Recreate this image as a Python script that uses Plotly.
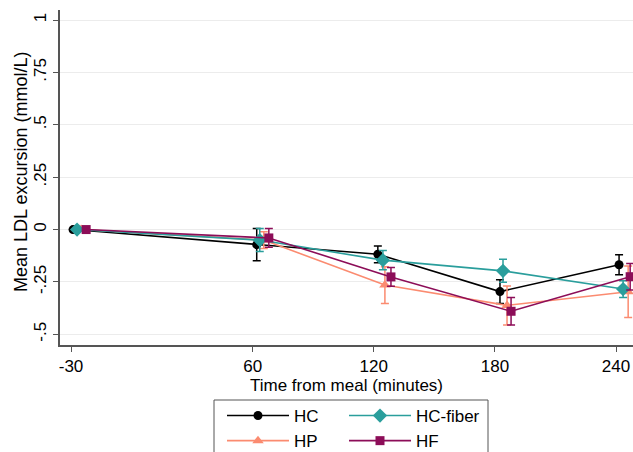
import plotly.graph_objects as go

# Data
hc_x = [-29, 62, 122, 182.5, 241.5]
hc_y = [0, -0.072, -0.118, -0.296, -0.168]
hc_err = [0, 0.077, 0.04, 0.057, 0.048]

fib_x = [-27, 63.5, 124.5, 184, 243.5]
fib_y = [0, -0.05, -0.146, -0.197, -0.284]
fib_err = [0, 0.055, 0.046, 0.055, 0.04]

hp_x = [-25, 65.5, 125.5, 186, 246]
hp_y = [0, -0.05, -0.265, -0.362, -0.297]
hp_err = [0, 0.04, 0.088, 0.093, 0.123]

hf_x = [-22.5, 68, 128.5, 188, 247]
hf_y = [0, -0.04, -0.226, -0.39, -0.225]
hf_err = [0, 0.045, 0.045, 0.066, 0.063]

x_ticks = [-30, 60, 120, 180, 240]
x_tick_labels = ["-30", "60", "120", "180", "240"]
y_ticks = [1, 0.75, 0.5, 0.25, 0, -0.25, -0.5]
y_tick_labels = ["1", ".75", ".5", ".25", "0", "-.25", "-.5"]

C_HC = "#000000"
C_FIB = "#2a9e9c"
C_HP = "#fb8b70"
C_HF = "#8c0d58"

fig = go.Figure()

def add(name, x, y, err, color, symbol, size, legend):
    fig.add_trace(go.Scatter(
        x=x, y=y, name=name, mode="lines+markers",
        line=dict(color=color, width=1.6),
        marker=dict(color=color, symbol=symbol, size=size),
        error_y=dict(type="data", array=err, visible=True, color=color,
                     thickness=1.5, width=4),
        legend=legend,
    ))

add("HC", hc_x, hc_y, hc_err, C_HC, "circle", 9, "legend")
add("HP", hp_x, hp_y, hp_err, C_HP, "triangle-up", 10, "legend")
add("HC-fiber", fib_x, fib_y, fib_err, C_FIB, "diamond", 11, "legend2")
add("HF", hf_x, hf_y, hf_err, C_HF, "square", 9, "legend2")

W, H = 633, 452
L, R, T, B = 60, 0, 10, 107
ph = H - T - B
pw = W - L - R

def px_x(p):
    return (p - L) / pw

def px_y(p):
    return (H - B - p) / ph

fig.add_shape(type="rect", xref="paper", yref="paper",
              x0=px_x(214), x1=px_x(488), y0=px_y(400), y1=px_y(470),
              line=dict(color="#555555", width=1), fillcolor="rgba(0,0,0,0)")

fig.add_annotation(text="Mean LDL excursion (mmol/L)", xref="paper", yref="paper",
                   x=px_x(21), y=px_y(172), xanchor="center", yanchor="middle",
                   textangle=-90, showarrow=False, font=dict(size=18))

font = dict(family="Arial, Liberation Sans, sans-serif", size=17, color="#000000")

leg_common = dict(xanchor="left", yanchor="top",
                  orientation="v", itemwidth=62, tracegroupgap=0,
                  bgcolor="rgba(0,0,0,0)", font=dict(size=17))

fig.update_layout(
    width=W, height=H,
    margin=dict(l=L, r=R, t=T, b=B, autoexpand=False),
    paper_bgcolor="white", plot_bgcolor="white",
    font=font,
    showlegend=True,
    legend=dict(x=px_x(222), y=px_y(398), **leg_common),
    legend2=dict(x=px_x(344), y=px_y(398), **leg_common),
    xaxis=dict(range=[-35.45, 248.4], tickvals=x_ticks, ticktext=x_tick_labels,
               ticks="outside", ticklen=5, tickcolor="#555555",
               showline=True, linecolor="#555555", linewidth=1.5,
               showgrid=False, zeroline=False, automargin=False,
               title=dict(text="Time from meal (minutes)", standoff=0,
                          font=dict(size=17)),
               tickfont=dict(size=17)),
    yaxis=dict(range=[-0.551, 1.048], tickvals=y_ticks, ticktext=y_tick_labels,
               tickangle=-90, ticks="outside", ticklen=5, tickcolor="#555555",
               showline=True, linecolor="#555555", linewidth=1.5,
               showgrid=True, gridcolor="#ececec", gridwidth=1,
               zeroline=False, automargin=False,
               tickfont=dict(size=17)),
)

fig.write_html("out.html")
